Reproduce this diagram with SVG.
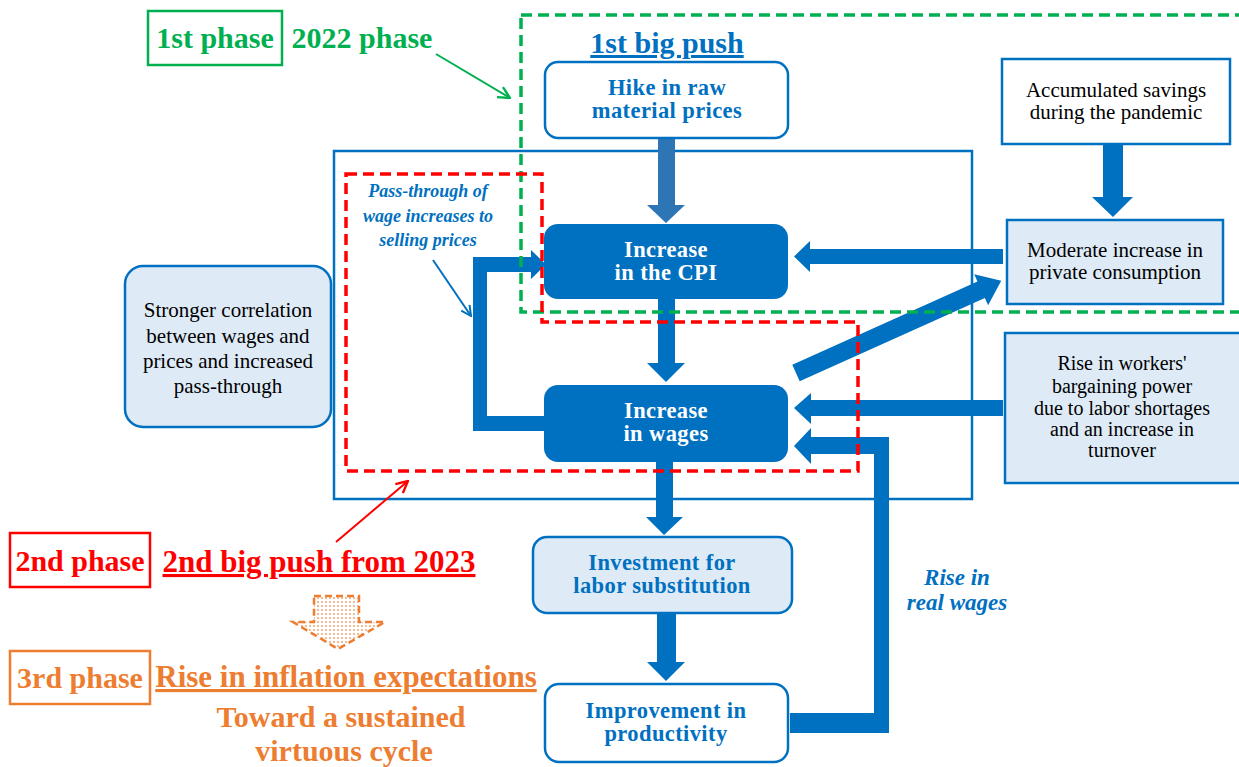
<svg xmlns="http://www.w3.org/2000/svg" width="1239" height="767" viewBox="0 0 1239 767">
<style>
text{font-family:"Liberation Serif","Times New Roman",serif;text-anchor:middle}
.b{font-weight:bold}
.bl{fill:#0070C0}
.wt{fill:#ffffff}
.bk{fill:#000000}
.it{font-style:italic;font-weight:bold}
.n24{font-size:22.5px;letter-spacing:0.4px}
.n21{font-size:21px}
.n20{font-size:20px}
.ph{font-size:30px;font-weight:bold}
.frame{fill:none;stroke:#0070C0;stroke-width:2.5}
.lt{fill:#DEEBF7;stroke:#0070C0;stroke-width:2.5}
.wh{fill:#ffffff;stroke:#0070C0;stroke-width:2.5}
.dk{fill:#0070C0}
.arr{fill:#0070C0}
.thin{fill:none;stroke-width:2}
</style>
<defs>
<marker id="mb" viewBox="0 0 12 12" refX="11" refY="6" markerWidth="12" markerHeight="12" markerUnits="userSpaceOnUse" orient="auto"><path d="M1,1 L11,6 L1,11" fill="none" stroke="#0070C0" stroke-width="2"/></marker>
<marker id="mg" viewBox="0 0 12 12" refX="11" refY="6" markerWidth="14" markerHeight="14" markerUnits="userSpaceOnUse" orient="auto"><path d="M1,1 L11,6 L1,11" fill="none" stroke="#00B050" stroke-width="2"/></marker>
<marker id="mr" viewBox="0 0 12 12" refX="11" refY="6" markerWidth="14" markerHeight="14" markerUnits="userSpaceOnUse" orient="auto"><path d="M1,1 L11,6 L1,11" fill="none" stroke="#FF0000" stroke-width="2"/></marker>
<pattern id="dots" width="4" height="4" patternUnits="userSpaceOnUse"><rect width="4" height="4" fill="#FFFFFF"/><circle cx="2" cy="2" r="0.9" fill="#F09A64"/></pattern>
</defs>

<!-- outer frame -->
<rect id="outer-frame" x="334" y="151" width="638" height="348" class="frame" stroke-width="2"/>

<g id="connectors">
<polygon style="fill:#2E75B6" points="658,139 675,139 675,205 685,205 666,223 647,205 658,205"/>
<polygon class="arr" points="1103,144 1123,144 1123,197 1133,197 1113,217 1092,197 1103,197"/>
<polygon class="arr" points="1003,249 810,249 810,241 794,256.5 810,272 810,264 1003,264"/>
<polygon class="arr" points="658,299 675,299 675,363 685,363 666,382 647,363 658,363"/>
<polygon class="arr" points="1003,400 811,400 811,393 794,408 811,424 811,416 1003,416"/>
<polygon class="arr" points="790,713 874,713 874,454 811,454 811,464 794,446 811,428 811,437 889,437 889,733 790,733"/>
<polygon class="arr" points="656,462 673,462 673,517 683,517 664,535 646,517 656,517"/>
<polygon class="arr" points="657,613 676,613 676,662 685,662 666,681 647,662 657,662"/>
<polygon class="arr" points="545,416 487,416 487,272 531,272 531,279 546,264.5 531,250 531,257 473,257 473,431 545,431"/>
<polygon class="arr" transform="translate(796,373) rotate(-24.2)" points="0,-9 203,-9 203,-17 225,0 203,17 203,9 0,9"/>
<line class="thin" stroke="#0070C0" x1="433" y1="260" x2="471" y2="316" marker-end="url(#mb)"/>
<line class="thin" stroke="#00B050" x1="436" y1="54" x2="510" y2="98" marker-end="url(#mg)"/>
<line class="thin" stroke="#FF0000" x1="336" y1="542" x2="408" y2="481" marker-end="url(#mr)"/>
<polygon points="314,596 359,596 359,622 385,622 338,649 293,622 314,622" fill="url(#dots)" stroke="#ED7D31" stroke-width="2.5" stroke-dasharray="7,4"/>
</g>

<g id="node-hike">
<rect x="545" y="62" width="243" height="76" rx="13" class="wh"/>
<text class="b bl n24" x="667" y="94.5">Hike in raw</text>
<text class="b bl n24" x="667" y="117.5">material prices</text>
</g>

<g id="node-savings">
<rect x="1002" y="59" width="228" height="85" class="wh" stroke-width="3"/>
<text class="bk n21" x="1116" y="97">Accumulated savings</text>
<text class="bk n21" x="1116" y="119">during the pandemic</text>
</g>

<g id="node-consumption">
<rect x="1007" y="220" width="216" height="84" class="lt"/>
<text class="bk n21" x="1115" y="257">Moderate increase in</text>
<text class="bk n21" x="1115" y="279">private consumption</text>
</g>

<g id="node-cpi">
<rect x="544" y="224" width="244" height="75" rx="14" class="dk"/>
<text class="b wt n24" x="666" y="256.5">Increase</text>
<text class="b wt n24" x="666" y="279.5">in the CPI</text>
</g>

<g id="node-wages">
<rect x="544" y="385" width="244" height="77" rx="14" class="dk"/>
<text class="b wt n24" x="666" y="417.5">Increase</text>
<text class="b wt n24" x="666" y="440.5">in wages</text>
</g>

<g id="node-correlation">
<rect x="125" y="266" width="206" height="161" rx="18" class="lt"/>
<text class="bk n21" x="228" y="317">Stronger correlation</text>
<text class="bk n21" x="228" y="343">between wages and</text>
<text class="bk n21" x="228" y="368">prices and increased</text>
<text class="bk n21" x="228" y="393">pass-through</text>
</g>

<g id="node-bargaining">
<rect x="1005" y="333" width="240" height="150" class="lt"/>
<text class="bk n20" x="1122" y="370">Rise in workers'</text>
<text class="bk n20" x="1122" y="393">bargaining power</text>
<text class="bk n20" x="1122" y="415">due to labor shortages</text>
<text class="bk n20" x="1122" y="436">and an increase in</text>
<text class="bk n20" x="1122" y="457">turnover</text>
</g>

<g id="node-investment">
<rect x="533" y="537" width="259" height="76" rx="14" class="lt"/>
<text class="b bl n24" x="662" y="569.5">Investment for</text>
<text class="b bl n24" x="662" y="592.5">labor substitution</text>
</g>

<g id="node-productivity">
<rect x="545" y="684" width="243" height="78" rx="14" class="wh"/>
<text class="b bl n24" x="666" y="717.5">Improvement in</text>
<text class="b bl n24" x="666" y="740.5">productivity</text>
</g>

<g id="label-passthrough">
<text class="it bl" font-size="18" x="428" y="197">Pass-through of</text>
<text class="it bl" font-size="18" x="428" y="222">wage increases to</text>
<text class="it bl" font-size="18" x="428" y="246">selling prices</text>
</g>

<g id="label-realwages">
<text class="it bl" font-size="23" x="957" y="585">Rise in</text>
<text class="it bl" font-size="23" x="957" y="610">real wages</text>
</g>

<g id="frames">
<rect x="521" y="15" width="730" height="297" fill="none" stroke="#00B050" stroke-width="3.5" stroke-dasharray="11,6"/>
<polygon points="346,174 542,174 542,322 858,322 858,471 346,471" fill="none" stroke="#FF0000" stroke-width="3.5" stroke-dasharray="11,6"/>
</g>

<g id="title-1st">
<text class="b bl" font-size="30" x="667" y="53" text-decoration="underline">1st big push</text>
</g>

<g id="phase-1">
<rect x="148" y="11" width="134" height="54" fill="none" stroke="#00B050" stroke-width="2.5"/>
<text class="ph" fill="#00B050" x="215" y="48">1st phase</text>
<text class="ph" fill="#00B050" x="362" y="48">2022 phase</text>
</g>

<g id="phase-2">
<rect x="10" y="533" width="140" height="54" fill="none" stroke="#FF0000" stroke-width="2.5"/>
<text class="ph" fill="#FF0000" x="80" y="571">2nd phase</text>
<text class="ph" fill="#FF0000" font-size="31" style="font-size:31px" x="319" y="572" text-decoration="underline">2nd big push from 2023</text>
</g>

<g id="phase-3">
<rect x="10" y="651" width="140" height="53" fill="none" stroke="#ED7D31" stroke-width="2.5"/>
<text class="ph" fill="#ED7D31" x="80" y="688">3rd phase</text>
<text class="ph" fill="#ED7D31" style="font-size:31px" x="346" y="687" text-decoration="underline">Rise in inflation expectations</text>
<text class="ph" fill="#ED7D31" x="341" y="727">Toward a sustained</text>
<text class="ph" fill="#ED7D31" x="344" y="761">virtuous cycle</text>
</g>
</svg>
